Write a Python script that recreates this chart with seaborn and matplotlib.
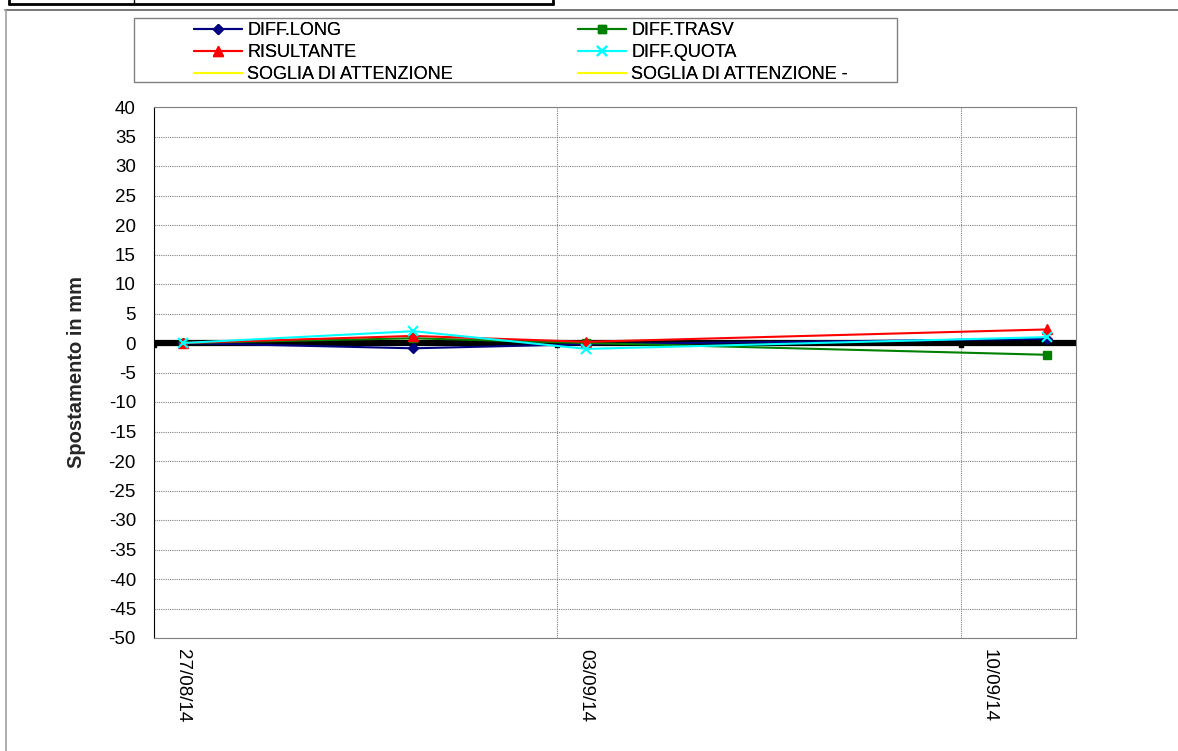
import pandas as pd
import matplotlib
matplotlib.use("Agg")
import matplotlib.pyplot as plt
from matplotlib.lines import Line2D
from matplotlib.patches import Rectangle
import seaborn as sns

# readings (taken around midday)
dates = ["2014-08-27 12:00", "2014-08-31 12:00", "2014-09-03 12:00", "2014-09-11 12:00"]
diff_long = [0.0, -0.9, -0.2, 0.7]
diff_trasv = [0.0, 0.8, 0.0, -2.0]
risultante = [0.0, 1.2, 0.2, 2.3]
diff_quota = [0.0, 2.0, -1.0, 1.0]

# zero reference series
ref_dates = ["2014-08-27", "2014-09-03", "2014-09-10"]
ref_values = [-0.3, -0.3, -0.3]

# gridlines at midnight, labels centred on the day
grid_dates = ["2014-08-27", "2014-09-03", "2014-09-10"]
label_dates = ["2014-08-27 12:00", "2014-09-03 12:00", "2014-09-10 12:00"]
tick_labels = ["27/08/14", "03/09/14", "10/09/14"]

df = pd.DataFrame({
    "data": pd.to_datetime(dates),
    "DIFF.LONG": diff_long,
    "DIFF.TRASV": diff_trasv,
    "RISULTANTE": risultante,
    "DIFF.QUOTA": diff_quota,
})

sns.set_style("white")
plt.rcParams["font.family"] = ["Liberation Sans", "DejaVu Sans"]
plt.rcParams["axes.unicode_minus"] = False
plt.rcParams["text.color"] = "black"
plt.rcParams["xtick.color"] = "black"
plt.rcParams["ytick.color"] = "black"

W, H = 1178, 751
fig = plt.figure(figsize=(W / 100, H / 100), dpi=100)
ax = fig.add_axes([154 / W, 1 - 638 / H, 922 / W, 531 / H])

x0 = pd.Timestamp("2014-08-27")
x1 = pd.Timestamp("2014-09-12")

# thick black zero line
ax.plot([x0, x1], [0, 0], color="black", lw=4.5, zorder=2)
ax.scatter(pd.to_datetime(ref_dates), ref_values, marker="s", s=12, color="black", zorder=3)

styles = [
    ("DIFF.LONG", "#000080", "D", 5),
    ("DIFF.TRASV", "#008000", "s", 6),
    ("RISULTANTE", "#ff0000", "^", 7),
    ("DIFF.QUOTA", "#00ffff", "x", 7),
]
for name, col, mk, ms in styles:
    sns.lineplot(data=df, x="data", y=name, ax=ax, color=col, marker=mk,
                 markersize=ms, markeredgecolor=col, markeredgewidth=1.5 if mk == "x" else 1,
                 lw=1.5, zorder=4)

ax.set_xlim(x0, x1)
ax.set_ylim(-50, 40)
ax.set_yticks(range(-50, 41, 5))
ax.set_xticks(pd.to_datetime(grid_dates))
ax.set_xticklabels([])
ax.set_xticks(pd.to_datetime(label_dates), minor=True)
ax.set_xticklabels(tick_labels, minor=True, rotation=270, fontsize=13.5)
ax.tick_params(axis="y", labelsize=13.5, length=0, left=True, pad=13)
ax.tick_params(axis="x", which="both", length=0, pad=8)
ax.set_xlabel("")
ax.set_ylabel("Spostamento in mm", fontsize=14.5, fontweight="bold", labelpad=16)
for lab in ax.get_xticklabels(minor=True):
    lab.set_va("top")
    lab.set_ha("center")

ax.grid(True, which="major", axis="both", color="#808080", ls=(0, (1, 1)), lw=0.8)
for side in ["top", "right", "bottom"]:
    ax.spines[side].set_color("#808080")
ax.spines["left"].set_color("black")

# legend box with two columns
fig.add_artist(Rectangle((134 / W, 1 - 82 / H), 763 / W, 64 / H, transform=fig.transFigure,
                         fill=False, edgecolor="#808080", lw=1))
col1 = [
    (Line2D([], [], color="#000080", marker="D", markersize=5, lw=1.5), "DIFF.LONG"),
    (Line2D([], [], color="#ff0000", marker="^", markersize=7, lw=1.5), "RISULTANTE"),
    (Line2D([], [], color="#ffff00", lw=1.5), "SOGLIA DI ATTENZIONE"),
]
col2 = [
    (Line2D([], [], color="#008000", marker="s", markersize=6, lw=1.5), "DIFF.TRASV"),
    (Line2D([], [], color="#00ffff", marker="x", markersize=7, markeredgewidth=1.5, lw=1.5), "DIFF.QUOTA"),
    (Line2D([], [], color="#ffff00", lw=1.5), "SOGLIA DI ATTENZIONE -"),
]
for items, xpos in [(col1, 194), (col2, 578)]:
    lg = fig.legend([h for h, _ in items], [t for _, t in items], loc="upper left",
                    bbox_to_anchor=(xpos / W, 1 - 22 / H), frameon=False, fontsize=13,
                    handlelength=2.65, handletextpad=0.3, labelspacing=0.28,
                    borderpad=0, borderaxespad=0)
    fig.add_artist(lg)

# outer chart frame and table fragment above
fig.add_artist(Line2D([5 / W, 1], [1 - 10 / H] * 2, color="#606060", lw=1.2))
fig.add_artist(Line2D([6 / W] * 2, [0, 1 - 10 / H], color="#a0a0a0", lw=1.2))
fig.add_artist(Line2D([9 / W, 553 / W], [1 - 4 / H] * 2, color="black", lw=2))
fig.add_artist(Line2D([9 / W] * 2, [1 - 4 / H, 1], color="black", lw=2))
fig.add_artist(Line2D([134 / W] * 2, [1 - 4 / H, 1], color="black", lw=1))
fig.add_artist(Line2D([553 / W] * 2, [1 - 4 / H, 1], color="black", lw=2))

fig.savefig("out.png", dpi=100)
